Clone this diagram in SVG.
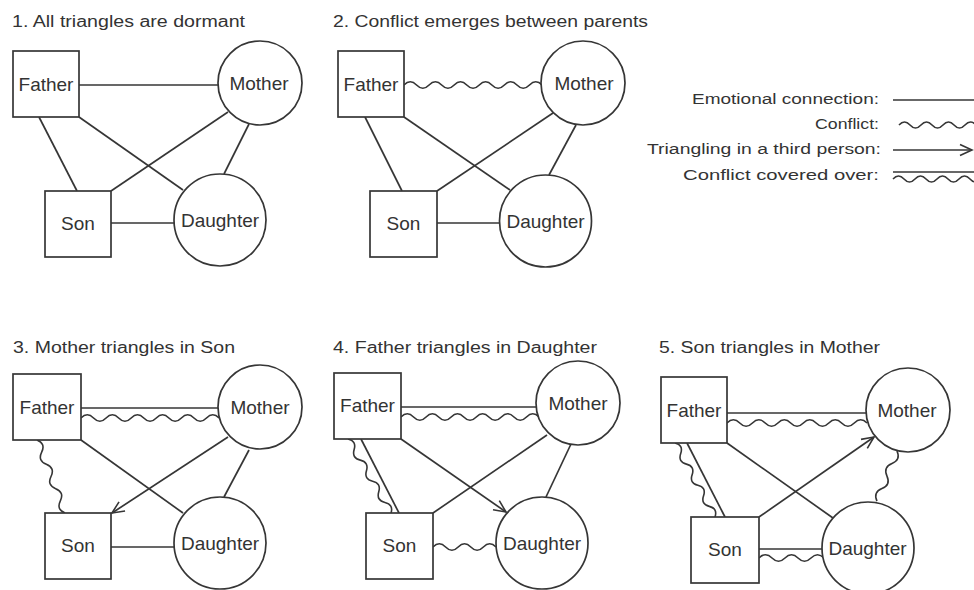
<svg xmlns="http://www.w3.org/2000/svg" width="974" height="590" viewBox="0 0 974 590">
<defs>
<style>
.bg{fill:#ffffff}
.n{fill:#ffffff;stroke:#363636;stroke-width:1.7}
.c{fill:none;stroke:#363636;stroke-width:1.7}
.w{fill:none;stroke:#363636;stroke-width:1.6}
.a{fill:none;stroke:#363636;stroke-width:1.7;marker-end:url(#arr)}
.lbl{font-family:"Liberation Sans",Arial,sans-serif;font-size:19px;fill:#333333;text-anchor:middle}
.ttl{font-family:"Liberation Sans",Arial,sans-serif;font-size:16px;fill:#333333}
.leg{font-family:"Liberation Sans",Arial,sans-serif;font-size:15.5px;fill:#333333}
</style>
<marker id="arr" markerWidth="16" markerHeight="14" refX="14" refY="7" orient="auto" markerUnits="userSpaceOnUse" overflow="visible">
<path d="M2,1.5 L14,7 L2,12.5" fill="none" stroke="#363636" stroke-width="1.6"/>
</marker>
</defs>
<rect class="bg" x="0" y="0" width="974" height="590"/>

<!-- Titles -->
<g id="titles">
<text class="ttl" x="12" y="26.5" textLength="233" lengthAdjust="spacingAndGlyphs">1. All triangles are dormant</text>
<text class="ttl" x="333" y="26.5" textLength="315" lengthAdjust="spacingAndGlyphs">2. Conflict emerges between parents</text>
<text class="ttl" x="13" y="353" textLength="222" lengthAdjust="spacingAndGlyphs">3. Mother triangles in Son</text>
<text class="ttl" x="333" y="353" textLength="264" lengthAdjust="spacingAndGlyphs">4. Father triangles in Daughter</text>
<text class="ttl" x="659" y="353" textLength="221" lengthAdjust="spacingAndGlyphs">5. Son triangles in Mother</text>
</g>

<!-- Legend -->
<g id="legend">
<text class="leg" x="692" y="104" textLength="187" lengthAdjust="spacingAndGlyphs">Emotional connection:</text>
<line class="c" x1="893" y1="100" x2="974" y2="100"/>
<text class="leg" x="815" y="128.5" textLength="64" lengthAdjust="spacingAndGlyphs">Conflict:</text>
<path class="w" transform="translate(899,125)" d="M0,0 q5.5,-6 11,0 t11,0 t11,0 t11,0 t11,0 t11,0 t11,0"/>
<text class="leg" x="647" y="154" textLength="234" lengthAdjust="spacingAndGlyphs">Triangling in a third person:</text>
<line class="a" x1="893" y1="150" x2="972" y2="150"/>
<text class="leg" x="683" y="180" textLength="196" lengthAdjust="spacingAndGlyphs">Conflict covered over:</text>
<line class="c" x1="893" y1="172" x2="974" y2="172"/>
<path class="w" transform="translate(893,179)" d="M0,0 q5.5,-6 11,0 t11,0 t11,0 t11,0 t11,0 t11,0 t11,0 t11,0"/>
</g>

<!-- Connectors -->
<g id="connectors">
<!-- Panel 1 -->
<line class="c" x1="79" y1="85" x2="218" y2="85"/>
<line class="c" x1="39" y1="117" x2="77" y2="191"/>
<line class="c" x1="79" y1="117" x2="183" y2="190"/>
<line class="c" x1="228" y1="112" x2="111" y2="191"/>
<line class="c" x1="249" y1="124" x2="224" y2="174"/>
<line class="c" x1="111" y1="223" x2="174" y2="223"/>
<!-- Panel 2 -->
<path class="w" transform="translate(404,85)" d="M0,0 q6.27,-6.5 12.55,0 t12.55,0 t12.55,0 t12.55,0 t12.55,0 t12.55,0 t12.55,0 t12.55,0 t12.55,0 t12.55,0 t12.55,0"/>
<line class="c" x1="365" y1="117" x2="402" y2="191"/>
<line class="c" x1="404" y1="117" x2="510" y2="190"/>
<line class="c" x1="553" y1="113" x2="437" y2="191"/>
<line class="c" x1="576" y1="125" x2="549" y2="175"/>
<line class="c" x1="437" y1="223" x2="499" y2="223"/>
<!-- Panel 3 -->
<line class="c" x1="81" y1="408" x2="218" y2="408"/>
<path class="w" transform="translate(81,418)" d="M0,0 q6.27,-6.5 12.55,0 t12.55,0 t12.55,0 t12.55,0 t12.55,0 t12.55,0 t12.55,0 t12.55,0 t12.55,0 t12.55,0 t12.55,0"/>
<path class="w" transform="translate(37,440) rotate(69)" d="M0,0 q6.5,-7 13.03,0 t13.03,0 t13.03,0 t13.03,0 t13.03,0 t13.03,0"/>
<line class="c" x1="81" y1="440" x2="183" y2="513"/>
<line class="a" x1="228" y1="437" x2="112" y2="513"/>
<line class="c" x1="249" y1="450" x2="224" y2="497"/>
<line class="c" x1="111" y1="547" x2="174" y2="547"/>
<!-- Panel 4 -->
<line class="c" x1="401" y1="407" x2="537" y2="407"/>
<path class="w" transform="translate(401,417)" d="M0,0 q6.27,-6.5 12.55,0 t12.55,0 t12.55,0 t12.55,0 t12.55,0 t12.55,0 t12.55,0 t12.55,0 t12.55,0 t12.55,0 t12.55,0"/>
<line class="c" x1="361" y1="439" x2="399" y2="513"/>
<path class="w" transform="translate(348,439) rotate(59.8)" d="M0,0 q6.1,-6.5 12.23,0 t12.23,0 t12.23,0 t12.23,0 t12.23,0 t12.23,0 t12.23,0"/>
<line class="a" x1="401" y1="439" x2="506" y2="512"/>
<line class="c" x1="547" y1="435" x2="433" y2="513"/>
<line class="c" x1="571" y1="444" x2="546" y2="497"/>
<path class="w" transform="translate(433,547)" d="M0,0 q6.3,-6.5 12.6,0 t12.6,0 t12.6,0 t12.6,0 t12.6,0"/>
<!-- Panel 5 -->
<line class="c" x1="727" y1="413" x2="866" y2="413"/>
<path class="w" transform="translate(727,423)" d="M0,0 q6.36,-6.5 12.73,0 t12.73,0 t12.73,0 t12.73,0 t12.73,0 t12.73,0 t12.73,0 t12.73,0 t12.73,0 t12.73,0 t12.73,0"/>
<line class="c" x1="687" y1="443" x2="725" y2="517"/>
<path class="w" transform="translate(675,443) rotate(61.6)" d="M0,0 q6,-6.5 12.01,0 t12.01,0 t12.01,0 t12.01,0 t12.01,0 t12.01,0 t12.01,0"/>
<line class="c" x1="727" y1="443" x2="833" y2="518"/>
<line class="a" x1="759" y1="517" x2="874" y2="437"/>
<path class="w" transform="translate(897,451) rotate(111.8)" d="M0,0 q6.75,-7 13.5,0 t13.5,0 t13.5,0 t13.5,0"/>
<line class="c" x1="759" y1="549" x2="823" y2="549"/>
<path class="w" transform="translate(759,558)" d="M0,0 q6.5,-6.5 13,0 t13,0 t13,0 t13,0 t13,0"/>
</g>

<!-- Panel 1 nodes -->
<g id="p1-father"><rect class="n" x="13" y="51" width="66" height="66"/><text class="lbl" x="46" y="90.5">Father</text></g>
<g id="p1-mother"><circle class="n" cx="260" cy="83" r="42"/><text class="lbl" x="259" y="89.5">Mother</text></g>
<g id="p1-son"><rect class="n" x="45" y="191" width="66" height="66"/><text class="lbl" x="78" y="230">Son</text></g>
<g id="p1-daughter"><circle class="n" cx="220" cy="220" r="46"/><text class="lbl" x="220" y="227">Daughter</text></g>

<!-- Panel 2 nodes -->
<g id="p2-father"><rect class="n" x="338" y="51" width="66" height="66"/><text class="lbl" x="371" y="90.5">Father</text></g>
<g id="p2-mother"><circle class="n" cx="583" cy="83" r="42"/><text class="lbl" x="584" y="89.5">Mother</text></g>
<g id="p2-son"><rect class="n" x="370" y="191" width="67" height="66"/><text class="lbl" x="403.5" y="230">Son</text></g>
<g id="p2-daughter"><circle class="n" cx="545.5" cy="221" r="46"/><text class="lbl" x="545.5" y="227.5">Daughter</text></g>

<!-- Panel 3 nodes -->
<g id="p3-father"><rect class="n" x="13" y="374" width="68" height="66"/><text class="lbl" x="47" y="413.5">Father</text></g>
<g id="p3-mother"><circle class="n" cx="260" cy="407" r="42"/><text class="lbl" x="260" y="413.5">Mother</text></g>
<g id="p3-son"><rect class="n" x="45" y="513" width="66" height="66"/><text class="lbl" x="78" y="552">Son</text></g>
<g id="p3-daughter"><circle class="n" cx="220" cy="543" r="46"/><text class="lbl" x="220" y="550">Daughter</text></g>

<!-- Panel 4 nodes -->
<g id="p4-father"><rect class="n" x="334" y="373" width="67" height="66"/><text class="lbl" x="367.5" y="412">Father</text></g>
<g id="p4-mother"><circle class="n" cx="578" cy="403" r="42"/><text class="lbl" x="578" y="409.5">Mother</text></g>
<g id="p4-son"><rect class="n" x="366" y="513" width="67" height="66"/><text class="lbl" x="399.5" y="552">Son</text></g>
<g id="p4-daughter"><circle class="n" cx="542" cy="543" r="46"/><text class="lbl" x="542" y="550">Daughter</text></g>

<!-- Panel 5 nodes -->
<g id="p5-father"><rect class="n" x="661" y="377" width="66" height="66"/><text class="lbl" x="694" y="416.5">Father</text></g>
<g id="p5-mother"><circle class="n" cx="908" cy="410" r="42"/><text class="lbl" x="907" y="416.5">Mother</text></g>
<g id="p5-son"><rect class="n" x="691" y="517" width="68" height="66"/><text class="lbl" x="725" y="556">Son</text></g>
<g id="p5-daughter"><circle class="n" cx="868" cy="548" r="46"/><text class="lbl" x="867.5" y="555">Daughter</text></g>
</svg>
